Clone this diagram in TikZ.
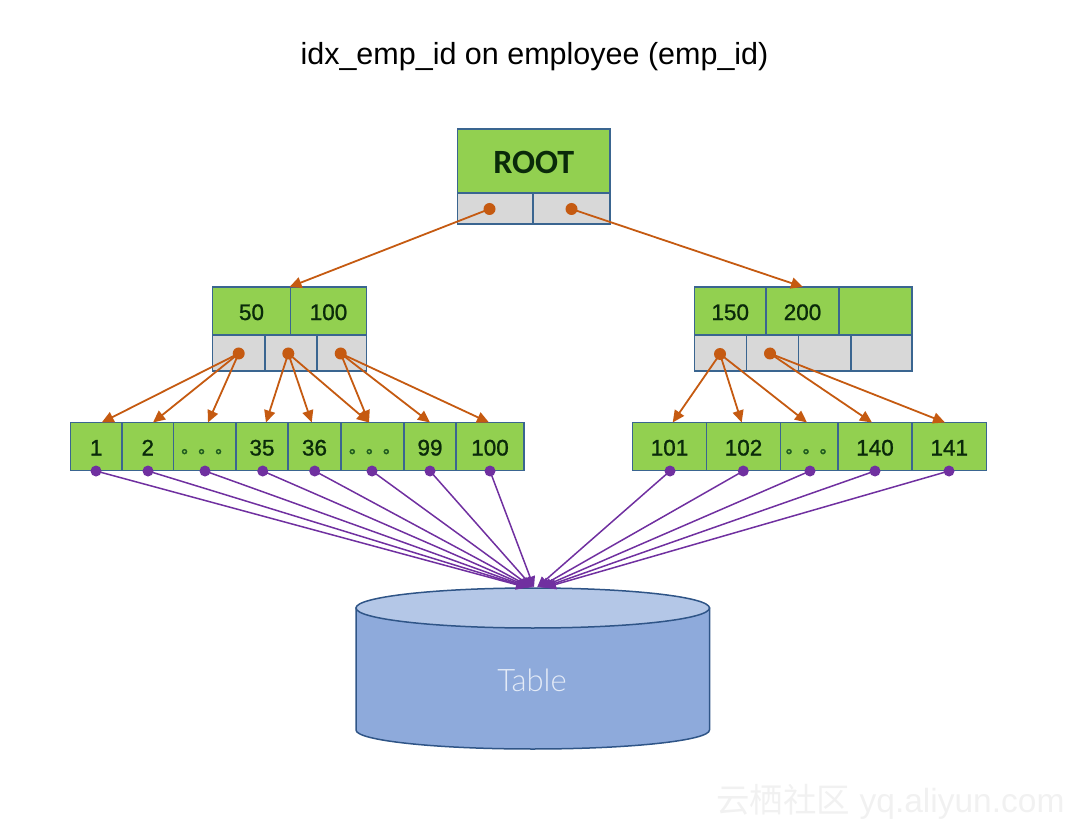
\documentclass[tikz,border=0pt]{standalone}
\usepackage{fontspec}
\setmainfont{Liberation Sans}
\newfontfamily\numfont[FakeBold=1]{Liberation Sans}
\newfontfamily\rootfont{Carlito}[BoldFont=Carlito Bold]
\newfontfamily\tablefont{Lato Light}
\newfontfamily\cjkfont{Noto Sans CJK SC}
\newfontfamily\cjkdots[FakeBold=1.5]{Noto Sans CJK SC}
\usetikzlibrary{arrows.meta}
\definecolor{cellgreen}{HTML}{92D050}
\definecolor{cellgray}{HTML}{D8D8D8}
\definecolor{celledge}{HTML}{3A6590}
\definecolor{linkorange}{HTML}{C55A11}
\definecolor{linkpurple}{HTML}{7030A0}
\definecolor{tablebody}{HTML}{8EAADB}
\definecolor{tabletop}{HTML}{B4C7E7}
\definecolor{tableedge}{HTML}{2F5587}
\definecolor{tabletext}{HTML}{E4EBF7}
\definecolor{markgray}{HTML}{F1F1F1}
\definecolor{celltext}{HTML}{0A2A0A}
\definecolor{dotgreen}{HTML}{1F5A1F}
\tikzset{
  cellbox/.style={draw=celledge,line width=1.8pt,inner sep=0pt,outer sep=0pt,text=celltext,text height=18pt,text depth=0pt,font=\numfont\fontsize{22.5}{24}\selectfont},
  orangedot/.style={circle,fill=linkorange,inner sep=0pt,minimum size=12pt},
  purpledot/.style={circle,fill=linkpurple,inner sep=0pt,minimum size=11pt},
  orangelink/.style={draw=linkorange,line width=1.8pt,-{Triangle[length=12pt,width=11pt]}},
  purplelink/.style={draw=linkpurple,line width=1.5pt,-{Triangle[length=11pt,width=10pt]}},
}
% name, x0, y0, x1, y1, fill, text
\newcommand{\cellat}[7]{%
  \pgfmathsetmacro{\cw}{#4-#2}\pgfmathsetmacro{\ch}{#5-#3}%
  \pgfmathsetmacro{\cx}{(#2+#4)/2}\pgfmathsetmacro{\cy}{(#3+#5)/2}%
  \node[cellbox,fill=#6,minimum width=\cw pt,minimum height=\ch pt] (#1) at (\cx,\cy) {#7};%
}
\newcommand{\threedots}{\hspace*{4pt}\raisebox{2.3pt}[0pt][0pt]{\textcolor{dotgreen}{\cjkdots\fontsize{17}{17}\selectfont 。。。}}}
\begin{document}
\begin{tikzpicture}[x=1pt,y=-1pt]
\useasboundingbox (0,0) rectangle (1080,829);
\node[font=\fontsize{30.5}{33}\selectfont] (title) at (534.5,56.5) {idx\_emp\_id on employee (emp\_id)};
\node[text=markgray,anchor=east,font=\fontsize{33.5}{36}\selectfont] (mark) at (1068,802) {{\cjkfont 云栖社区} yq.aliyun.com};

% root
\cellat{rootkey}{457.5}{129}{610}{193}{cellgreen}{\raisebox{-4pt}[18pt][0pt]{\rootfont\bfseries\fontsize{34}{36}\selectfont ROOT}}
\cellat{rootA}{457.5}{193}{533}{224}{cellgray}{}
\cellat{rootB}{533}{193}{610}{224}{cellgray}{}
% left branch
\cellat{lk1}{212.5}{287}{290.5}{335}{cellgreen}{50}
\cellat{lk2}{290.5}{287}{366.5}{335}{cellgreen}{100}
\cellat{lp1}{212.5}{335}{265}{371}{cellgray}{}
\cellat{lp2}{265}{335}{317}{371}{cellgray}{}
\cellat{lp3}{317}{335}{366.5}{371}{cellgray}{}
% right branch
\cellat{rk1}{694.5}{287}{766}{335}{cellgreen}{150}
\cellat{rk2}{766}{287}{839}{335}{cellgreen}{200}
\cellat{rk3}{839}{287}{912}{335}{cellgreen}{}
\cellat{rp1}{694.5}{335}{746.5}{371}{cellgray}{}
\cellat{rp2}{746.5}{335}{798.5}{371}{cellgray}{}
\cellat{rp3}{798.5}{335}{851}{371}{cellgray}{}
\cellat{rp4}{851}{335}{912}{371}{cellgray}{}
% left leaves
\cellat{a1}{70.5}{422.5}{122}{470.5}{cellgreen}{1}
\cellat{a2}{122}{422.5}{173.5}{470.5}{cellgreen}{2}
\cellat{a3}{173.5}{422.5}{236}{470.5}{cellgreen}{\threedots}
\cellat{a4}{236}{422.5}{288}{470.5}{cellgreen}{35}
\cellat{a5}{288}{422.5}{341}{470.5}{cellgreen}{36}
\cellat{a6}{341}{422.5}{404}{470.5}{cellgreen}{\threedots}
\cellat{a7}{404}{422.5}{456}{470.5}{cellgreen}{99}
\cellat{a8}{456}{422.5}{524}{470.5}{cellgreen}{100}
% right leaves
\cellat{b1}{632.5}{422.5}{706.5}{470.5}{cellgreen}{101}
\cellat{b2}{706.5}{422.5}{780.5}{470.5}{cellgreen}{102}
\cellat{b3}{780.5}{422.5}{838}{470.5}{cellgreen}{\threedots}
\cellat{b4}{838}{422.5}{912}{470.5}{cellgreen}{140}
\cellat{b5}{912}{422.5}{986.5}{470.5}{cellgreen}{141}

% table
\draw[draw=tableedge,line width=1.5pt,fill=tablebody] (356,608) -- (356,730)
  arc[start angle=180,end angle=360,x radius=176.75pt,y radius=19pt] -- (709.5,608) -- cycle;
\draw[draw=tableedge,line width=1.5pt,fill=tabletop] (532.75,608) ellipse[x radius=176.75pt,y radius=20pt];
\node[text=tabletext,font=\tablefont\fontsize{31}{33}\selectfont] (table) at (532,680) {Table};

% orange source dots
\node[orangedot] (dr1) at (489.5,209) {};
\node[orangedot] (dr2) at (571.5,209) {};
\node[orangedot] (dl1) at (238.7,353.5) {};
\node[orangedot] (dl2) at (288.3,353.5) {};
\node[orangedot] (dl3) at (340.7,353.5) {};
\node[orangedot] (dq1) at (720,354) {};
\node[orangedot] (dq2) at (770,353.5) {};

% orange targets on the top edges
\coordinate (tl) at (289.5,287);
\coordinate (tr) at (803,287);
\foreach \n/\x in {1/101.7,2/153,3/208,4/266,5/311.7,6/369,7/430,8/489}
  \coordinate (ta\n) at (\x,422.5);
\foreach \n/\x in {1/672.7,2/741.7,3/807,4/872,5/945}
  \coordinate (tb\n) at (\x,422.5);

\draw[orangelink] (dr1.center) -- (tl);
\draw[orangelink] (dr2.center) -- (tr);
\foreach \n in {1,2,3} \draw[orangelink] (dl1.center) -- (ta\n);
\foreach \n in {4,5,6} \draw[orangelink] (dl2.center) -- (ta\n);
\foreach \n in {6,7,8} \draw[orangelink] (dl3.center) -- (ta\n);
\foreach \n in {1,2,3} \draw[orangelink] (dq1.center) -- (tb\n);
\foreach \n in {4,5} \draw[orangelink] (dq2.center) -- (tb\n);

% purple links to the table
\foreach \n/\x/\tx in {1/96/527,2/148/528,3/205/529,4/262.7/530,5/314.7/531,6/372/532,7/430/533,8/490/534}{
  \node[purpledot] (pa\n) at (\x,471) {};
  \coordinate (qa\n) at (\tx,587.5);
  \draw[purplelink] (pa\n.center) -- (qa\n);
}
\foreach \n/\x/\tx in {1/670/537,2/743.3/539,3/810/541,4/875/543,5/949/545}{
  \node[purpledot] (pb\n) at (\x,471) {};
  \coordinate (qb\n) at (\tx,587.5);
  \draw[purplelink] (pb\n.center) -- (qb\n);
}
\end{tikzpicture}
\end{document}
